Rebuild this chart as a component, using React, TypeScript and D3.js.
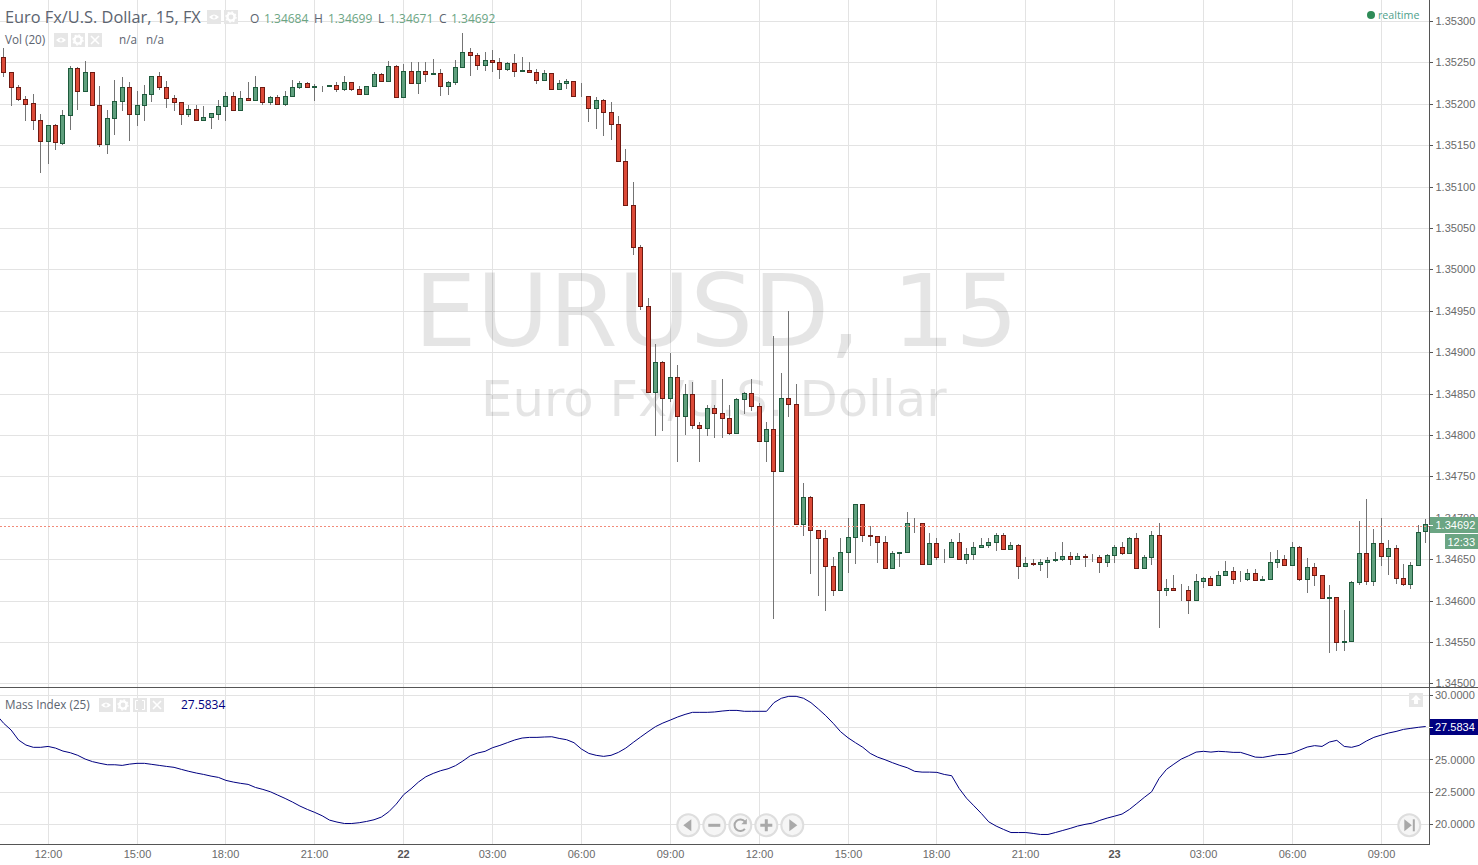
import React from "react";
import * as d3 from "d3";

const opens = [
  1.35257,1.35239,1.35220,1.35206,1.35201,1.35180,1.35155,1.35174,1.35153,1.35186,
  1.35243,1.35215,1.35238,1.35199,1.35151,1.35183,1.35203,1.35220,1.35188,1.35199,
  1.35212,1.35234,1.35220,1.35207,1.35202,1.35188,1.35194,1.35180,1.35184,1.35188,
  1.35197,1.35209,1.35193,1.35207,1.35204,1.35220,1.35202,1.35208,1.35200,1.35209,
  1.35220,1.35225,1.35220,1.35222,1.35222,1.35223,1.35218,1.35226,1.35218,1.35212,
  1.35222,1.35236,1.35228,1.35246,1.35208,1.35240,1.35225,1.35240,1.35236,1.35237,
  1.35222,1.35226,1.35244,1.35263,1.35259,1.35247,1.35253,1.35250,1.35242,1.35249,
  1.35240,1.35241,1.35238,1.35229,1.35237,1.35218,1.35225,1.35228,1.35209,1.35209,
  1.35195,1.35205,1.35190,1.35176,1.35131,1.35078,1.35027,1.34956,1.34852,1.34888,
  1.34845,1.34870,1.34823,1.34850,1.34812,1.34808,1.34833,1.34827,1.34821,1.34802,
  1.34843,1.34851,1.34835,1.34793,1.34807,1.34756,1.34845,1.34837,1.34692,1.34725,
  1.34685,1.34676,1.34642,1.34613,1.34659,1.34677,1.34717,1.34679,1.34678,1.34671,
  1.34639,1.34658,1.34659,1.34694,1.34694,1.34644,1.34670,1.34653,1.34653,1.34671,
  1.34650,1.34656,1.34665,1.34667,1.34671,1.34679,1.34662,1.34667,1.34642,1.34645,
  1.34644,1.34647,1.34649,1.34650,1.34654,1.34650,1.34654,1.34653,1.34653,1.34647,
  1.34655,1.34665,1.34658,1.34676,1.34639,1.34653,1.34679,1.34613,1.34615,1.34613,
  1.34613,1.34601,1.34624,1.34627,1.34619,1.34631,1.34636,1.34626,1.34626,1.34633,
  1.34625,1.34626,1.34647,1.34650,1.34643,1.34665,1.34626,1.34641,1.34631,1.34603,
  1.34604,1.34550,1.34551,1.34622,1.34658,1.34624,1.34670,1.34654,1.34664,1.34627,
  1.34620,1.34643,1.34684,
];
const highs = [
  1.35267,1.35239,1.35223,1.35210,1.35212,1.35188,1.35174,1.35176,1.35193,1.35246,
  1.35244,1.35252,1.35238,1.35222,1.35193,1.35229,1.35232,1.35226,1.35216,1.35223,
  1.35234,1.35239,1.35228,1.35211,1.35202,1.35199,1.35199,1.35197,1.35189,1.35205,
  1.35214,1.35214,1.35216,1.35226,1.35233,1.35220,1.35209,1.35211,1.35216,1.35229,
  1.35228,1.35226,1.35224,1.35222,1.35223,1.35226,1.35233,1.35226,1.35222,1.35222,
  1.35239,1.35237,1.35252,1.35247,1.35248,1.35250,1.35250,1.35250,1.35254,1.35242,
  1.35228,1.35253,1.35286,1.35267,1.35261,1.35263,1.35265,1.35255,1.35250,1.35260,
  1.35257,1.35250,1.35242,1.35241,1.35237,1.35229,1.35230,1.35228,1.35225,1.35209,
  1.35208,1.35206,1.35202,1.35185,1.35145,1.35106,1.35030,1.34965,1.34910,1.34889,
  1.34899,1.34885,1.34862,1.34864,1.34816,1.34836,1.34836,1.34868,1.34836,1.34845,
  1.34852,1.34868,1.34839,1.34816,1.34920,1.34875,1.34950,1.34862,1.34742,1.34726,
  1.34685,1.34685,1.34653,1.34676,1.34700,1.34717,1.34717,1.34690,1.34678,1.34678,
  1.34660,1.34659,1.34707,1.34700,1.34694,1.34682,1.34676,1.34662,1.34674,1.34682,
  1.34664,1.34671,1.34676,1.34676,1.34682,1.34682,1.34671,1.34668,1.34653,1.34650,
  1.34650,1.34653,1.34659,1.34671,1.34659,1.34658,1.34656,1.34656,1.34655,1.34656,
  1.34667,1.34671,1.34677,1.34682,1.34655,1.34684,1.34694,1.34626,1.34631,1.34620,
  1.34618,1.34632,1.34628,1.34630,1.34636,1.34648,1.34641,1.34636,1.34638,1.34638,
  1.34630,1.34659,1.34661,1.34655,1.34671,1.34666,1.34651,1.34645,1.34631,1.34619,
  1.34604,1.34589,1.34624,1.34696,1.34723,1.34686,1.34700,1.34673,1.34667,1.34644,
  1.34647,1.34691,1.34699,
];
const lows = [
  1.35234,1.35199,1.35204,1.35180,1.35170,1.35118,1.35129,1.35146,1.35152,1.35170,
  1.35194,1.35215,1.35199,1.35149,1.35141,1.35164,1.35192,1.35156,1.35174,1.35180,
  1.35203,1.35218,1.35196,1.35193,1.35176,1.35185,1.35180,1.35180,1.35171,1.35182,
  1.35181,1.35192,1.35193,1.35204,1.35204,1.35200,1.35200,1.35200,1.35199,1.35209,
  1.35219,1.35220,1.35205,1.35216,1.35222,1.35215,1.35217,1.35217,1.35212,1.35212,
  1.35222,1.35228,1.35228,1.35208,1.35208,1.35225,1.35213,1.35228,1.35236,1.35211,
  1.35212,1.35224,1.35244,1.35235,1.35242,1.35241,1.35240,1.35231,1.35241,1.35233,
  1.35240,1.35238,1.35225,1.35229,1.35218,1.35218,1.35219,1.35209,1.35209,1.35179,
  1.35171,1.35162,1.35157,1.35131,1.35078,1.35018,1.34952,1.34852,1.34800,1.34806,
  1.34841,1.34769,1.34801,1.34809,1.34769,1.34800,1.34798,1.34798,1.34801,1.34802,
  1.34827,1.34830,1.34793,1.34769,1.34579,1.34756,1.34823,1.34692,1.34679,1.34633,
  1.34607,1.34589,1.34607,1.34613,1.34635,1.34646,1.34672,1.34667,1.34647,1.34639,
  1.34639,1.34642,1.34659,1.34683,1.34644,1.34644,1.34650,1.34647,1.34653,1.34650,
  1.34646,1.34650,1.34665,1.34665,1.34661,1.34662,1.34662,1.34627,1.34642,1.34643,
  1.34637,1.34628,1.34648,1.34649,1.34644,1.34650,1.34642,1.34648,1.34635,1.34642,
  1.34647,1.34656,1.34658,1.34639,1.34639,1.34644,1.34568,1.34607,1.34613,1.34601,
  1.34585,1.34601,1.34616,1.34619,1.34619,1.34631,1.34621,1.34624,1.34625,1.34625,
  1.34625,1.34626,1.34641,1.34643,1.34643,1.34625,1.34610,1.34619,1.34603,1.34538,
  1.34540,1.34540,1.34551,1.34620,1.34620,1.34619,1.34643,1.34632,1.34621,1.34619,
  1.34615,1.34643,1.34671,
];
const closes = [
  1.35239,1.35220,1.35206,1.35200,1.35180,1.35155,1.35174,1.35154,1.35186,1.35243,
  1.35215,1.35238,1.35199,1.35151,1.35183,1.35203,1.35220,1.35188,1.35199,1.35212,
  1.35234,1.35220,1.35207,1.35202,1.35188,1.35194,1.35180,1.35184,1.35189,1.35197,
  1.35209,1.35193,1.35207,1.35204,1.35220,1.35202,1.35208,1.35200,1.35209,1.35220,
  1.35225,1.35220,1.35222,1.35222,1.35223,1.35218,1.35226,1.35218,1.35212,1.35222,
  1.35236,1.35228,1.35246,1.35208,1.35240,1.35225,1.35240,1.35236,1.35237,1.35222,
  1.35226,1.35244,1.35263,1.35259,1.35247,1.35253,1.35250,1.35242,1.35249,1.35240,
  1.35241,1.35238,1.35229,1.35237,1.35218,1.35225,1.35228,1.35209,1.35209,1.35195,
  1.35205,1.35190,1.35176,1.35131,1.35078,1.35027,1.34956,1.34852,1.34888,1.34845,
  1.34870,1.34823,1.34850,1.34812,1.34808,1.34833,1.34827,1.34821,1.34802,1.34843,
  1.34851,1.34835,1.34793,1.34807,1.34756,1.34845,1.34837,1.34692,1.34725,1.34685,
  1.34676,1.34642,1.34613,1.34659,1.34677,1.34717,1.34679,1.34678,1.34671,1.34639,
  1.34658,1.34659,1.34694,1.34694,1.34644,1.34670,1.34653,1.34653,1.34671,1.34650,
  1.34656,1.34665,1.34667,1.34671,1.34679,1.34662,1.34667,1.34642,1.34645,1.34644,
  1.34647,1.34649,1.34650,1.34654,1.34650,1.34654,1.34653,1.34653,1.34647,1.34655,
  1.34665,1.34658,1.34676,1.34639,1.34653,1.34679,1.34613,1.34615,1.34613,1.34613,
  1.34601,1.34624,1.34627,1.34619,1.34631,1.34636,1.34626,1.34626,1.34633,1.34625,
  1.34626,1.34647,1.34650,1.34643,1.34665,1.34626,1.34641,1.34631,1.34603,1.34604,
  1.34550,1.34551,1.34622,1.34658,1.34624,1.34670,1.34654,1.34664,1.34627,1.34620,
  1.34643,1.34683,1.34692,
];

// Mass Index, one value per bar; the first value belongs to the bar just before the visible window.
const massIndex = [
  28.50,27.83,27.31,26.54,26.15,25.97,25.97,26.04,25.91,25.68,25.55,
  25.35,25.06,24.86,24.73,24.62,24.62,24.57,24.67,24.73,24.73,
  24.65,24.57,24.49,24.42,24.26,24.11,23.98,23.87,23.74,23.64,
  23.41,23.28,23.18,23.10,22.86,22.71,22.53,22.27,22.01,21.73,
  21.42,21.16,20.93,20.67,20.33,20.18,20.07,20.07,20.13,20.23,
  20.36,20.57,20.98,21.57,22.30,22.76,23.28,23.69,23.95,24.16,
  24.31,24.55,24.91,25.32,25.53,25.66,25.94,26.12,26.33,26.54,
  26.69,26.74,26.74,26.77,26.79,26.66,26.56,26.33,25.84,25.50,
  25.35,25.27,25.35,25.58,25.91,26.35,26.77,27.18,27.57,27.85,
  28.08,28.32,28.52,28.68,28.68,28.68,28.71,28.78,28.83,28.83,
  28.76,28.76,28.76,28.76,29.43,29.77,29.92,29.92,29.77,29.43,
  28.94,28.42,27.83,27.18,26.71,26.33,25.97,25.50,25.21,25.01,
  24.78,24.57,24.39,24.11,24.05,24.05,24.03,23.87,23.77,22.79,
  22.03,21.44,20.85,20.20,19.87,19.61,19.37,19.37,19.37,19.30,
  19.22,19.22,19.37,19.53,19.69,19.87,20.00,20.10,20.31,20.49,
  20.64,20.80,21.16,21.62,22.09,22.53,23.56,24.26,24.67,25.06,
  25.32,25.60,25.66,25.60,25.66,25.63,25.58,25.58,25.40,25.21,
  25.19,25.29,25.40,25.42,25.53,25.76,25.99,26.10,26.04,26.38,
  26.51,26.04,25.97,26.12,26.46,26.74,26.92,27.08,27.20,27.36,
  27.44,27.52,27.5834,
];

const timeLabels = ["12:00","15:00","18:00","21:00","22","03:00","06:00","09:00","12:00","15:00","18:00","21:00","23","03:00","06:00","09:00"];
const timeBars = [6,18,30,42,54,66,78,90,102,114,126,138,150,162,174,186];
const priceTicks = [1.353,1.3525,1.352,1.3515,1.351,1.3505,1.35,1.3495,1.349,1.3485,1.348,1.3475,1.347,1.3465,1.346,1.3455,1.345];
const massTicks = [30,27.5,25,22.5,20];
const lastPrice = 1.34692;
const lastMass = 27.5834;

const W = 1478, H = 865, AX = 1429;
const MAIN_BOTTOM = 687, PANE_BOTTOM = 844;
const UI = "'Open Sans', sans-serif";
const AXF = "'Liberation Sans', Arial, sans-serif";
const MARK = "'DejaVu Sans', sans-serif";
const GRID = "#e3e3e3";
const AXC = "#555555";
const TXT = "#6a6a6a";
const UP_FILL = "#5f9f7d", UP_LINE = "#1e5a3c";
const DOWN_FILL = "#dc4a38", DOWN_LINE = "#6f1a12";
const GREEN_TXT = "#6ba583";

const x = d3.scaleLinear().domain([0, 192]).range([3.7, 1425.7]);
const y = d3.scaleLinear().domain([1.353, 1.345]).range([21.5, 683.9]);
const ym = d3.scaleLinear().domain([30, 20]).range([695.3, 824.4]);
const snapX = (b: number) => Math.floor(x(b)) + 0.5;
const snapY = (v: number) => Math.round(y(v) - 0.5) + 0.5;

const massLine = d3
  .line<number>()
  .x((_, i) => x(i - 1))
  .y((v) => ym(v));

function Square({ px, py, kind }: { px: number; py: number; kind: string }) {
  const cx = px + 7, cy = py + 7;
  return (
    <g>
      <rect x={px} y={py} width={14} height={14} fill="#e6e6e6" />
      {kind === "eye" && (
        <g>
          <path d={`M${cx - 5},${cy} Q${cx},${cy - 5} ${cx + 5},${cy} Q${cx},${cy + 5} ${cx - 5},${cy} Z`} fill="#fff" />
          <circle cx={cx} cy={cy} r={1.6} fill="#e6e6e6" />
        </g>
      )}
      {kind === "gear" && (
        <g>
          <circle cx={cx} cy={cy} r={3.6} fill="none" stroke="#fff" strokeWidth={2.4} />
          <circle cx={cx} cy={cy} r={5} fill="none" stroke="#fff" strokeWidth={1.4} strokeDasharray="1.8 2.1" />
        </g>
      )}
      {kind === "close" && (
        <path d={`M${cx - 4},${cy - 4} L${cx + 4},${cy + 4} M${cx + 4},${cy - 4} L${cx - 4},${cy + 4}`} stroke="#fff" strokeWidth={1.6} />
      )}
      {kind === "frame" && (
        <path d={`M${cx - 2},${cy - 4.5} H${cx - 4.5} V${cy + 4.5} H${cx - 2} M${cx + 2},${cy - 4.5} H${cx + 4.5} V${cy + 4.5} H${cx + 2}`} fill="none" stroke="#fff" strokeWidth={1} />
      )}
      {kind === "up" && (
        <path d={`M${cx},${cy - 5} L${cx + 5},${cy} H${cx + 2} V${cy + 4} H${cx - 2} V${cy} H${cx - 5} Z`} fill="#fff" />
      )}
    </g>
  );
}

function NavButton({ cx, kind }: { cx: number; kind: string }) {
  const cy = 825.3;
  const c = "#a9a9a9";
  return (
    <g>
      <circle cx={cx} cy={cy} r={11} fill="#f5f5f5" stroke="#dedede" strokeWidth={2} />
      {kind === "left" && <path d={`M${cx - 5},${cy} L${cx + 3},${cy - 6} V${cy + 6} Z`} fill={c} />}
      {kind === "right" && <path d={`M${cx + 5},${cy} L${cx - 3},${cy - 6} V${cy + 6} Z`} fill={c} />}
      {kind === "minus" && <rect x={cx - 6} y={cy - 1.5} width={12} height={3} fill={c} />}
      {kind === "plus" && <path d={`M${cx - 6},${cy - 1.5} H${cx - 1.5} V${cy - 6} H${cx + 1.5} V${cy - 1.5} H${cx + 6} V${cy + 1.5} H${cx + 1.5} V${cy + 6} H${cx - 1.5} V${cy + 1.5} H${cx - 6} Z`} fill={c} />}
      {kind === "reset" && (
        <g>
          <path d={`M${cx + 4.6},${cy - 3.6} A5.8,5.8 0 1 0 ${cx + 4.6},${cy + 3.6}`} fill="none" stroke={c} strokeWidth={2} />
          <path d={`M${cx + 6.5},${cy - 6.5} V${cy - 1} H${cx + 1} Z`} fill={c} />
        </g>
      )}
      {kind === "end" && (
        <g>
          <path d={`M${cx + 2.5},${cy} L${cx - 5},${cy - 6} V${cy + 6} Z`} fill={c} />
          <rect x={cx + 3.5} y={cy - 6} width={2} height={12} fill={c} />
        </g>
      )}
    </g>
  );
}

export default function App() {
  const lastY = snapY(lastPrice) + 2;
  return (
    <svg
      width={W}
      height={H}
      viewBox={`0 0 ${W} ${H}`}
      style={{ position: "absolute", left: 0, top: 0, display: "block", background: "#fff" }}
    >
      <defs>
        <clipPath id="mainClip"><rect x={0} y={0} width={AX} height={MAIN_BOTTOM} /></clipPath>
        <clipPath id="paneClip"><rect x={0} y={MAIN_BOTTOM + 1} width={AX} height={PANE_BOTTOM - MAIN_BOTTOM - 1} /></clipPath>
        <clipPath id="axisClip"><rect x={AX} y={0} width={W - AX} height={MAIN_BOTTOM} /></clipPath>
      </defs>
      <rect width={W} height={H} fill="#fff" />

      {/* grid */}
      {timeBars.map((b) => (
        <line key={b} x1={snapX(b)} x2={snapX(b)} y1={0} y2={PANE_BOTTOM} stroke={GRID} />
      ))}
      {priceTicks.map((t) => (
        <line key={t} x1={0} x2={AX} y1={snapY(t)} y2={snapY(t)} stroke={GRID} />
      ))}
      {massTicks.map((t) => (
        <line key={t} x1={0} x2={AX} y1={Math.round(ym(t) - 0.5) + 0.5} y2={Math.round(ym(t) - 0.5) + 0.5} stroke={GRID} />
      ))}

      {/* watermark */}
      <text x={414} y={346} fontFamily={MARK} fontSize={99} fill="#000" fillOpacity={0.1}>EURUSD, 15</text>
      <text x={481} y={416} fontFamily={MARK} fontSize={49.7} fill="#000" fillOpacity={0.1}>Euro Fx/U.S. Dollar</text>

      {/* candles */}
      <g clipPath="url(#mainClip)">
        {opens.map((o, i) => {
          const c = closes[i];
          const up = c >= o;
          const cx = snapX(i);
          const top = snapY(Math.max(o, c));
          const bottom = snapY(Math.min(o, c));
          return (
            <g key={i}>
              <line x1={cx} x2={cx} y1={snapY(highs[i]) - 0.5} y2={snapY(lows[i]) + 0.5} stroke="#747474" />
              <rect
                x={cx - 2}
                y={top}
                width={4}
                height={Math.max(bottom - top, 0)}
                fill={up ? UP_FILL : DOWN_FILL}
                stroke={up ? UP_LINE : DOWN_LINE}
              />
            </g>
          );
        })}
        <line x1={0} x2={AX} y1={lastY} y2={lastY} stroke="#f28b7a" strokeDasharray="2 2" />
      </g>

      {/* mass index */}
      <g clipPath="url(#paneClip)">
        <path d={massLine(massIndex) ?? ""} fill="none" stroke="#000080" strokeWidth={1} />
      </g>

      {/* frame */}
      <line x1={0} x2={W} y1={687.5} y2={687.5} stroke={AXC} />
      <line x1={0} x2={AX + 0.5} y1={PANE_BOTTOM + 0.5} y2={PANE_BOTTOM + 0.5} stroke={AXC} />
      <line x1={AX + 0.5} x2={AX + 0.5} y1={0} y2={PANE_BOTTOM + 1} stroke={AXC} />

      {/* price axis */}
      <g clipPath="url(#axisClip)">
        {priceTicks.map((t) => (
          <g key={t}>
            <line x1={AX} x2={AX + 4} y1={snapY(t)} y2={snapY(t)} stroke={AXC} />
            <text x={1435.5} y={snapY(t) + 3.5} fontFamily={AXF} fontSize={11} fill={TXT}>{t.toFixed(5)}</text>
          </g>
        ))}
      </g>
      <rect x={AX + 1} y={517} width={W - AX - 1} height={16} fill={GREEN_TXT} />
      <line x1={AX} x2={AX + 4} y1={lastY - 1} y2={lastY - 1} stroke="#fff" />
      <text x={1435.5} y={529} fontFamily={AXF} fontSize={11} fill="#fff">{lastPrice.toFixed(5)}</text>
      <rect x={1445} y={534} width={W - 1445} height={15} fill={GREEN_TXT} />
      <text x={1447.5} y={545.5} fontFamily={AXF} fontSize={11} fill="#fff">12:33</text>

      {/* mass axis */}
      {massTicks.map((t) => (
        <g key={t}>
          <line x1={AX} x2={AX + 4} y1={Math.round(ym(t) - 0.5) + 0.5} y2={Math.round(ym(t) - 0.5) + 0.5} stroke={AXC} />
          <text x={1435} y={ym(t) + 4} fontFamily={AXF} fontSize={11} fill={TXT}>{t.toFixed(4)}</text>
        </g>
      ))}
      <rect x={AX + 1} y={719} width={W - AX - 1} height={16} fill="#000080" />
      <line x1={AX} x2={AX + 4} y1={727.5} y2={727.5} stroke="#fff" />
      <text x={1435} y={731} fontFamily={AXF} fontSize={11} fill="#fff">{lastMass.toFixed(4)}</text>

      {/* time axis */}
      {timeBars.map((b, i) => {
        const bold = !timeLabels[i].includes(":");
        return (
          <text
            key={b}
            x={snapX(b)}
            y={858}
            textAnchor="middle"
            fontFamily={AXF}
            fontSize={11}
            fontWeight={bold ? 700 : 400}
            fill={bold ? "#555" : TXT}
          >
            {timeLabels[i]}
          </text>
        );
      })}

      {/* legends */}
      <text x={5} y={23} fontFamily={UI} fontSize={16.35} fill="#5c6470">Euro Fx/U.S. Dollar, 15, FX</text>
      <Square px={207} py={10} kind="eye" />
      <Square px={224} py={10} kind="gear" />
      <text x={250} y={23} fontFamily={UI} fontSize={12} fill="#5c6470">O</text>
      <text x={264} y={23} fontFamily={UI} fontSize={12} fill={GREEN_TXT}>{opens[192].toFixed(5)}</text>
      <text x={314} y={23} fontFamily={UI} fontSize={12} fill="#5c6470">H</text>
      <text x={328} y={23} fontFamily={UI} fontSize={12} fill={GREEN_TXT}>{highs[192].toFixed(5)}</text>
      <text x={378} y={23} fontFamily={UI} fontSize={12} fill="#5c6470">L</text>
      <text x={389} y={23} fontFamily={UI} fontSize={12} fill={GREEN_TXT}>{lows[192].toFixed(5)}</text>
      <text x={439} y={23} fontFamily={UI} fontSize={12} fill="#5c6470">C</text>
      <text x={451} y={23} fontFamily={UI} fontSize={12} fill={GREEN_TXT}>{closes[192].toFixed(5)}</text>

      <text x={5} y={44} fontFamily={UI} fontSize={11.7} fill="#5c6470">Vol (20)</text>
      <Square px={54} py={33} kind="eye" />
      <Square px={71} py={33} kind="gear" />
      <Square px={88} py={33} kind="close" />
      <text x={119} y={44} fontFamily={UI} fontSize={11.7} fill="#5c6470">n/a</text>
      <text x={146} y={44} fontFamily={UI} fontSize={11.7} fill="#5c6470">n/a</text>

      <text x={5} y={709} fontFamily={UI} fontSize={11.7} fill="#5c6470">Mass Index (25)</text>
      <Square px={99} py={698} kind="eye" />
      <Square px={116} py={698} kind="gear" />
      <Square px={133} py={698} kind="frame" />
      <Square px={150} py={698} kind="close" />
      <text x={181} y={709} fontFamily={UI} fontSize={12} fill="#000080">{lastMass.toFixed(4)}</text>
      <Square px={1409} py={693} kind="up" />

      <circle cx={1371} cy={15} r={4} fill="#2e8b57" />
      <text x={1378} y={19} fontFamily={UI} fontSize={10.7} fill="#4f9f8c">realtime</text>

      {/* navigation */}
      <NavButton cx={688.3} kind="left" />
      <NavButton cx={714.3} kind="minus" />
      <NavButton cx={740.3} kind="reset" />
      <NavButton cx={766.3} kind="plus" />
      <NavButton cx={792.3} kind="right" />
      <NavButton cx={1409.3} kind="end" />
    </svg>
  );
}
